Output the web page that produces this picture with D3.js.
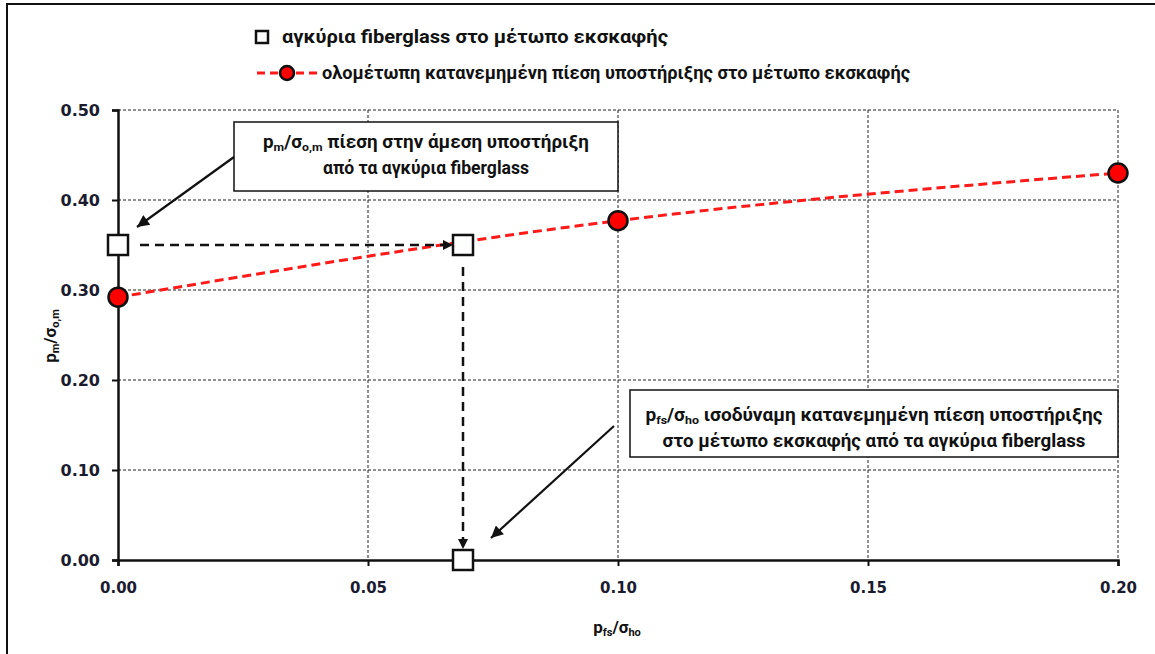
<!DOCTYPE html>
<html>
<head>
<meta charset="utf-8">
<script src="https://cdn.jsdelivr.net/npm/d3@7"></script>
<style>
  html, body { margin: 0; padding: 0; background: #fff; }
  svg { display: block; }
  .lbl { font-family: "Roboto", "Noto Sans", sans-serif; font-weight: 700; fill: #111; }
  .tick text { font-family: "DejaVu Sans", sans-serif; font-weight: 700; fill: #1b1b30; }
</style>
</head>
<body>
<svg id="chart" width="1155" height="654"></svg>
<script>
// Axis ticks
const xTicks = [0, 0.05, 0.10, 0.15, 0.20];
const yTicks = [0, 0.10, 0.20, 0.30, 0.40, 0.50];

// Fully distributed face support pressure (red series)
const faceSupportX = [0, 0.10, 0.20];
const faceSupportY = [0.292, 0.377, 0.430];

// Fiberglass anchors at the excavation face (square markers)
const anchorX = [0, 0.069, 0.069];
const anchorY = [0.350, 0.350, 0];

const W = 1155, H = 654;
const plotLeft = 118, plotRight = 1118, plotTop = 110, plotBottom = 560;

const svg = d3.select("#chart");

const x = d3.scaleLinear().domain([0, 0.20]).range([plotLeft, plotRight]);
const y = d3.scaleLinear().domain([0, 0.50]).range([plotBottom, plotTop]);

// outer frame (only left/top edges fall inside the page)
svg.append("rect").attr("x", 7).attr("y", 4).attr("width", W + 20).attr("height", H + 20)
  .attr("fill", "#fff").attr("stroke", "#111").attr("stroke-width", 2);

const defs = svg.append("defs");
defs.append("marker").attr("id", "head").attr("viewBox", "0 0 10 10")
  .attr("refX", 10).attr("refY", 5).attr("markerWidth", 10).attr("markerHeight", 10)
  .attr("markerUnits", "userSpaceOnUse").attr("orient", "auto")
  .append("path").attr("d", "M0,0 L10,5 L0,10 Z").attr("fill", "#111");
defs.append("marker").attr("id", "headBig").attr("viewBox", "0 0 10 10")
  .attr("refX", 10).attr("refY", 5).attr("markerWidth", 16).attr("markerHeight", 12)
  .attr("markerUnits", "userSpaceOnUse").attr("orient", "auto")
  .append("path").attr("d", "M0,0 L10,5 L0,10 Z").attr("fill", "#111");

// grid
const grid = svg.append("g");
grid.selectAll("line.h").data(yTicks.filter(d => d > 0)).join("line")
  .attr("x1", plotLeft).attr("x2", plotRight).attr("y1", d => y(d)).attr("y2", d => y(d))
  .attr("stroke", "#222").attr("stroke-width", 1).attr("stroke-dasharray", "3,2");
grid.selectAll("line.v").data(xTicks.filter(d => d > 0)).join("line")
  .attr("y1", plotTop).attr("y2", plotBottom).attr("x1", d => x(d)).attr("x2", d => x(d))
  .attr("stroke", "#222").attr("stroke-width", 1).attr("stroke-dasharray", "3,2");

// axes
const fmt = d3.format(".2f");
const yAxis = svg.append("g").attr("transform", `translate(${plotLeft},0)`)
  .call(d3.axisLeft(y).tickValues(yTicks).tickFormat(fmt).tickSize(6).tickPadding(12));
const xAxis = svg.append("g").attr("transform", `translate(0,${plotBottom})`)
  .call(d3.axisBottom(x).tickValues(xTicks).tickFormat(fmt).tickSize(6).tickPadding(16));
[yAxis, xAxis].forEach(a => {
  a.select(".domain").attr("stroke", "#111").attr("stroke-width", 2.5);
  a.selectAll(".tick line").attr("stroke", "#111").attr("stroke-width", 2);
});
yAxis.selectAll(".tick text").attr("font-size", 16);
xAxis.selectAll(".tick text").attr("font-size", 15);

// text with subscript parts
function subText(g, parts, size) {
  const t = g.append("text").attr("class", "lbl").attr("font-size", size);
  parts.forEach(p => {
    const s = t.append("tspan").text(p[0]);
    if (p[1]) s.attr("font-size", size * 0.65).attr("dy", size * 0.18);
    else if (s.node().previousSibling) s.attr("dy", -size * 0.18);
  });
  return t;
}
subText(svg.append("g").attr("transform", "translate(617,633)"),
  [["p"], ["fs", 1], ["/σ"], ["ho", 1]], 17).attr("text-anchor", "middle");
subText(svg.append("g").attr("transform", "translate(56,336) rotate(-90)"),
  [["p"], ["m", 1], ["/σ"], ["o,m", 1]], 17).attr("text-anchor", "middle");

// red dashed support pressure curve
const redPts = faceSupportX.map((d, i) => [d, faceSupportY[i]]);
svg.append("path").datum(redPts)
  .attr("d", d3.line().x(d => x(d[0])).y(d => y(d[1])).curve(d3.curveMonotoneX))
  .attr("fill", "none").attr("stroke", "#ff1a1a").attr("stroke-width", 3)
  .attr("stroke-dasharray", "9,5");

// dashed guide arrows between the anchor markers
const guide = svg.append("g").attr("stroke", "#111").attr("stroke-width", 2.5)
  .attr("stroke-dasharray", "9,6").attr("fill", "none");
guide.append("line")
  .attr("x1", x(anchorX[0]) + 22).attr("y1", y(anchorY[0]))
  .attr("x2", x(anchorX[1]) - 10).attr("y2", y(anchorY[1]))
  .attr("marker-end", "url(#head)");
guide.append("line")
  .attr("x1", x(anchorX[1])).attr("y1", y(anchorY[1]) + 22)
  .attr("x2", x(anchorX[2])).attr("y2", y(anchorY[2]) - 11)
  .attr("marker-end", "url(#head)");

// red circle markers
svg.selectAll("circle.red").data(redPts).join("circle")
  .attr("cx", d => x(d[0])).attr("cy", d => y(d[1])).attr("r", 9.5)
  .attr("fill", "#ff0000").attr("stroke", "#111").attr("stroke-width", 2.5);

// square markers
const sq = 20;
svg.selectAll("rect.anchor").data(anchorX.map((d, i) => [d, anchorY[i]])).join("rect")
  .attr("x", d => x(d[0]) - sq / 2).attr("y", d => y(d[1]) - sq / 2)
  .attr("width", sq).attr("height", sq)
  .attr("fill", "#fff").attr("stroke", "#111").attr("stroke-width", 2.5);

// legend
const lg = svg.append("g");
lg.append("rect").attr("x", 256).attr("y", 31).attr("width", 12).attr("height", 12)
  .attr("fill", "#fff").attr("stroke", "#111").attr("stroke-width", 2.5);
lg.append("text").attr("class", "lbl").attr("x", 282).attr("y", 43).attr("font-size", 19)
  .attr("textLength", 386).attr("lengthAdjust", "spacingAndGlyphs")
  .text("αγκύρια fiberglass στο μέτωπο εκσκαφής");
lg.append("line").attr("x1", 257).attr("x2", 318).attr("y1", 73).attr("y2", 73)
  .attr("stroke", "#ff1a1a").attr("stroke-width", 3).attr("stroke-dasharray", "8,5");
lg.append("circle").attr("cx", 287).attr("cy", 73).attr("r", 7)
  .attr("fill", "#ff0000").attr("stroke", "#111").attr("stroke-width", 2.5);
lg.append("text").attr("class", "lbl").attr("x", 322).attr("y", 79).attr("font-size", 19)
  .attr("textLength", 588).attr("lengthAdjust", "spacingAndGlyphs")
  .text("ολομέτωπη  κατανεμημένη  πίεση υποστήριξης στο μέτωπο  εκσκαφής");

// annotation boxes
function box(bx, by, bw, bh, lines) {
  const g = svg.append("g");
  g.append("rect").attr("x", bx).attr("y", by).attr("width", bw).attr("height", bh)
    .attr("fill", "#fff").attr("stroke", "#111").attr("stroke-width", 1.5);
  lines.forEach(l => {
    subText(g, l.parts, 18).attr("x", bx + bw / 2).attr("y", l.y)
      .attr("text-anchor", "middle").attr("textLength", l.w)
      .attr("lengthAdjust", "spacingAndGlyphs");
  });
}
box(234, 122, 384, 69, [
  { y: 148, w: 326, parts: [["p"], ["m", 1], ["/σ"], ["o,m", 1], [" πίεση στην άμεση υποστήριξη"]] },
  { y: 174, w: 206, parts: [["από τα αγκύρια fiberglass"]] }
]);
box(630, 390, 488, 67, [
  { y: 421, w: 457, parts: [["p"], ["fs", 1], ["/σ"], ["ho", 1], [" ισοδύναμη  κατανεμημένη  πίεση υποστήριξης"]] },
  { y: 447, w: 423, parts: [["στο μέτωπο εκσκαφής από τα αγκύρια fiberglass"]] }
]);

// pointer arrows from the boxes to the markers
const ptr = svg.append("g").attr("stroke", "#111").attr("stroke-width", 2.2).attr("fill", "none");
ptr.append("line").attr("x1", 234).attr("y1", 157)
  .attr("x2", x(anchorX[0]) + 19).attr("y2", y(anchorY[0]) - 18)
  .attr("marker-end", "url(#headBig)");
ptr.append("line").attr("x1", 614).attr("y1", 426)
  .attr("x2", x(anchorX[2]) + 28).attr("y2", y(anchorY[2]) - 22)
  .attr("marker-end", "url(#headBig)");
</script>
</body>
</html>
